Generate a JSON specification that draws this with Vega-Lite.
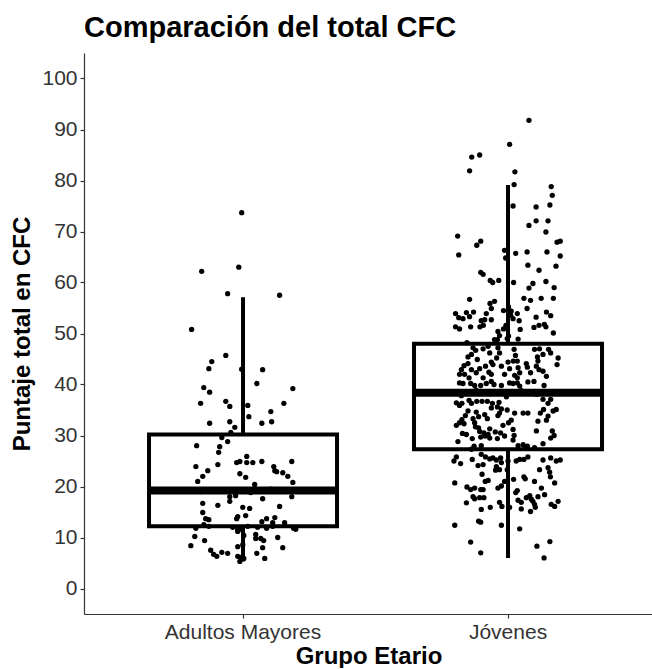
{
  "$schema": "https://vega.github.io/schema/vega-lite/v6.json",
  "width": 569,
  "height": 561,
  "padding": {"left": 10, "top": 14, "right": 0, "bottom": 0},
  "background": "white",
  "title": {"text": "Comparación del total CFC", "anchor": "start", "frame": "group", "font": "Liberation Sans", "fontSize": 29, "fontWeight": "bold", "color": "black", "offset": 10},
  "config": {
    "view": {"stroke": null},
    "axis": {"labelFont": "Liberation Sans", "labelFontSize": 21, "labelColor": "#333333", "titleFont": "Liberation Sans", "titleFontSize": 24, "titleFontWeight": "bold", "titleColor": "black", "domainColor": "#333333", "domainWidth": 1.2, "tickColor": "#333333", "tickSize": 4, "tickWidth": 1.2, "grid": false, "labelPadding": 3}
  },
  "datasets": {
    "cajas": [
      {"grupo": "Adultos Mayores", "minimo": 5.3, "q1": 12.2, "mediana": 19.2, "q3": 30.2, "maximo": 57.1},
      {"grupo": "Jóvenes", "minimo": 6.0, "q1": 27.3, "mediana": 38.4, "q3": 48.0, "maximo": 79.1}
    ],
    "puntos": [
      {"grupo":"Adultos Mayores","puntaje":73.7,"jitter":-0.005},
      {"grupo":"Adultos Mayores","puntaje":62.2,"jitter":-0.156},
      {"grupo":"Adultos Mayores","puntaje":63.0,"jitter":-0.016},
      {"grupo":"Adultos Mayores","puntaje":57.8,"jitter":-0.058},
      {"grupo":"Adultos Mayores","puntaje":57.5,"jitter":0.138},
      {"grupo":"Adultos Mayores","puntaje":50.8,"jitter":-0.194},
      {"grupo":"Adultos Mayores","puntaje":45.7,"jitter":-0.065},
      {"grupo":"Adultos Mayores","puntaje":44.5,"jitter":-0.118},
      {"grupo":"Adultos Mayores","puntaje":43.1,"jitter":-0.129},
      {"grupo":"Adultos Mayores","puntaje":43.0,"jitter":-0.005},
      {"grupo":"Adultos Mayores","puntaje":42.9,"jitter":0.074},
      {"grupo":"Adultos Mayores","puntaje":40.2,"jitter":0.052},
      {"grupo":"Adultos Mayores","puntaje":39.2,"jitter":0.188},
      {"grupo":"Adultos Mayores","puntaje":39.4,"jitter":-0.148},
      {"grupo":"Adultos Mayores","puntaje":38.5,"jitter":-0.126},
      {"grupo":"Adultos Mayores","puntaje":36.3,"jitter":-0.160},
      {"grupo":"Adultos Mayores","puntaje":36.7,"jitter":-0.065},
      {"grupo":"Adultos Mayores","puntaje":35.7,"jitter":-0.050},
      {"grupo":"Adultos Mayores","puntaje":35.9,"jitter":0.018},
      {"grupo":"Adultos Mayores","puntaje":36.3,"jitter":0.154},
      {"grupo":"Adultos Mayores","puntaje":34.7,"jitter":0.105},
      {"grupo":"Adultos Mayores","puntaje":33.7,"jitter":0.022},
      {"grupo":"Adultos Mayores","puntaje":32.4,"jitter":-0.126},
      {"grupo":"Adultos Mayores","puntaje":32.7,"jitter":-0.050},
      {"grupo":"Adultos Mayores","puntaje":31.6,"jitter":-0.031},
      {"grupo":"Adultos Mayores","puntaje":32.4,"jitter":0.071},
      {"grupo":"Adultos Mayores","puntaje":32.7,"jitter":0.108},
      {"grupo":"Adultos Mayores","puntaje":29.6,"jitter":-0.080},
      {"grupo":"Adultos Mayores","puntaje":30.6,"jitter":-0.046},
      {"grupo":"Adultos Mayores","puntaje":28.8,"jitter":-0.058},
      {"grupo":"Adultos Mayores","puntaje":28.0,"jitter":-0.175},
      {"grupo":"Adultos Mayores","puntaje":27.8,"jitter":-0.088},
      {"grupo":"Adultos Mayores","puntaje":26.7,"jitter":-0.092},
      {"grupo":"Adultos Mayores","puntaje":24.3,"jitter":-0.095},
      {"grupo":"Adultos Mayores","puntaje":23.9,"jitter":-0.178},
      {"grupo":"Adultos Mayores","puntaje":23.1,"jitter":-0.133},
      {"grupo":"Adultos Mayores","puntaje":22.0,"jitter":-0.152},
      {"grupo":"Adultos Mayores","puntaje":21.0,"jitter":-0.171},
      {"grupo":"Adultos Mayores","puntaje":24.7,"jitter":-0.024},
      {"grupo":"Adultos Mayores","puntaje":24.9,"jitter":-0.012},
      {"grupo":"Adultos Mayores","puntaje":25.9,"jitter":0.014},
      {"grupo":"Adultos Mayores","puntaje":24.7,"jitter":0.014},
      {"grupo":"Adultos Mayores","puntaje":24.7,"jitter":0.037},
      {"grupo":"Adultos Mayores","puntaje":24.9,"jitter":0.071},
      {"grupo":"Adultos Mayores","puntaje":23.9,"jitter":0.116},
      {"grupo":"Adultos Mayores","puntaje":23.1,"jitter":0.120},
      {"grupo":"Adultos Mayores","puntaje":22.9,"jitter":0.127},
      {"grupo":"Adultos Mayores","puntaje":22.7,"jitter":0.150},
      {"grupo":"Adultos Mayores","puntaje":24.9,"jitter":0.184},
      {"grupo":"Adultos Mayores","puntaje":22.0,"jitter":0.169},
      {"grupo":"Adultos Mayores","puntaje":20.8,"jitter":0.188},
      {"grupo":"Adultos Mayores","puntaje":22.5,"jitter":-0.012},
      {"grupo":"Adultos Mayores","puntaje":21.8,"jitter":0.010},
      {"grupo":"Adultos Mayores","puntaje":20.4,"jitter":0.044},
      {"grupo":"Adultos Mayores","puntaje":18.0,"jitter":-0.050},
      {"grupo":"Adultos Mayores","puntaje":17.1,"jitter":-0.050},
      {"grupo":"Adultos Mayores","puntaje":18.2,"jitter":-0.028},
      {"grupo":"Adultos Mayores","puntaje":16.7,"jitter":-0.152},
      {"grupo":"Adultos Mayores","puntaje":16.3,"jitter":-0.095},
      {"grupo":"Adultos Mayores","puntaje":17.6,"jitter":0.074},
      {"grupo":"Adultos Mayores","puntaje":18.0,"jitter":0.184},
      {"grupo":"Adultos Mayores","puntaje":15.9,"jitter":-0.001},
      {"grupo":"Adultos Mayores","puntaje":15.7,"jitter":0.025},
      {"grupo":"Adultos Mayores","puntaje":16.1,"jitter":0.138},
      {"grupo":"Adultos Mayores","puntaje":14.9,"jitter":-0.152},
      {"grupo":"Adultos Mayores","puntaje":14.3,"jitter":0.010},
      {"grupo":"Adultos Mayores","puntaje":14.1,"jitter":-0.020},
      {"grupo":"Adultos Mayores","puntaje":13.7,"jitter":-0.024},
      {"grupo":"Adultos Mayores","puntaje":13.7,"jitter":-0.141},
      {"grupo":"Adultos Mayores","puntaje":13.5,"jitter":-0.129},
      {"grupo":"Adultos Mayores","puntaje":12.5,"jitter":-0.148},
      {"grupo":"Adultos Mayores","puntaje":13.1,"jitter":0.071},
      {"grupo":"Adultos Mayores","puntaje":13.7,"jitter":0.089},
      {"grupo":"Adultos Mayores","puntaje":13.9,"jitter":0.120},
      {"grupo":"Adultos Mayores","puntaje":12.9,"jitter":0.112},
      {"grupo":"Adultos Mayores","puntaje":12.2,"jitter":0.112},
      {"grupo":"Adultos Mayores","puntaje":12.9,"jitter":0.157},
      {"grupo":"Adultos Mayores","puntaje":11.8,"jitter":-0.178},
      {"grupo":"Adultos Mayores","puntaje":12.2,"jitter":-0.129},
      {"grupo":"Adultos Mayores","puntaje":12.0,"jitter":-0.039},
      {"grupo":"Adultos Mayores","puntaje":11.6,"jitter":-0.020},
      {"grupo":"Adultos Mayores","puntaje":11.6,"jitter":-0.005},
      {"grupo":"Adultos Mayores","puntaje":12.2,"jitter":0.018},
      {"grupo":"Adultos Mayores","puntaje":12.0,"jitter":0.055},
      {"grupo":"Adultos Mayores","puntaje":11.8,"jitter":0.089},
      {"grupo":"Adultos Mayores","puntaje":11.8,"jitter":0.191},
      {"grupo":"Adultos Mayores","puntaje":11.6,"jitter":0.199},
      {"grupo":"Adultos Mayores","puntaje":11.2,"jitter":-0.020},
      {"grupo":"Adultos Mayores","puntaje":10.4,"jitter":0.003},
      {"grupo":"Adultos Mayores","puntaje":10.6,"jitter":0.048},
      {"grupo":"Adultos Mayores","puntaje":9.8,"jitter":0.048},
      {"grupo":"Adultos Mayores","puntaje":9.8,"jitter":0.067},
      {"grupo":"Adultos Mayores","puntaje":9.4,"jitter":0.078},
      {"grupo":"Adultos Mayores","puntaje":10.2,"jitter":-0.182},
      {"grupo":"Adultos Mayores","puntaje":9.4,"jitter":-0.145},
      {"grupo":"Adultos Mayores","puntaje":8.4,"jitter":-0.197},
      {"grupo":"Adultos Mayores","puntaje":10.0,"jitter":0.131},
      {"grupo":"Adultos Mayores","puntaje":8.2,"jitter":-0.020},
      {"grupo":"Adultos Mayores","puntaje":8.6,"jitter":-0.001},
      {"grupo":"Adultos Mayores","puntaje":8.0,"jitter":0.074},
      {"grupo":"Adultos Mayores","puntaje":8.0,"jitter":0.150},
      {"grupo":"Adultos Mayores","puntaje":7.5,"jitter":-0.122},
      {"grupo":"Adultos Mayores","puntaje":6.7,"jitter":-0.111},
      {"grupo":"Adultos Mayores","puntaje":6.3,"jitter":-0.099},
      {"grupo":"Adultos Mayores","puntaje":7.1,"jitter":-0.080},
      {"grupo":"Adultos Mayores","puntaje":6.9,"jitter":-0.058},
      {"grupo":"Adultos Mayores","puntaje":6.9,"jitter":0.052},
      {"grupo":"Adultos Mayores","puntaje":6.3,"jitter":-0.020},
      {"grupo":"Adultos Mayores","puntaje":6.1,"jitter":-0.009},
      {"grupo":"Adultos Mayores","puntaje":5.9,"jitter":0.003},
      {"grupo":"Adultos Mayores","puntaje":5.3,"jitter":-0.012},
      {"grupo":"Adultos Mayores","puntaje":5.9,"jitter":0.082},
      {"grupo":"Adultos Mayores","puntaje":19.3,"jitter":-0.103},
      {"grupo":"Adultos Mayores","puntaje":18.8,"jitter":0.029},
      {"grupo":"Adultos Mayores","puntaje":19.5,"jitter":0.105},
      {"grupo":"Adultos Mayores","puntaje":19.0,"jitter":-0.160},
      {"grupo":"Adultos Mayores","puntaje":19.2,"jitter":0.161},
      {"grupo":"Jóvenes","puntaje":91.8,"jitter":0.079},
      {"grupo":"Jóvenes","puntaje":87.1,"jitter":0.006},
      {"grupo":"Jóvenes","puntaje":84.6,"jitter":-0.137},
      {"grupo":"Jóvenes","puntaje":85.0,"jitter":-0.107},
      {"grupo":"Jóvenes","puntaje":81.9,"jitter":-0.145},
      {"grupo":"Jóvenes","puntaje":81.7,"jitter":0.026},
      {"grupo":"Jóvenes","puntaje":79.2,"jitter":0.023},
      {"grupo":"Jóvenes","puntaje":78.8,"jitter":0.163},
      {"grupo":"Jóvenes","puntaje":77.1,"jitter":0.167},
      {"grupo":"Jóvenes","puntaje":75.0,"jitter":0.019},
      {"grupo":"Jóvenes","puntaje":74.8,"jitter":0.106},
      {"grupo":"Jóvenes","puntaje":75.2,"jitter":0.158},
      {"grupo":"Jóvenes","puntaje":71.2,"jitter":0.079},
      {"grupo":"Jóvenes","puntaje":72.1,"jitter":0.106},
      {"grupo":"Jóvenes","puntaje":72.1,"jitter":0.151},
      {"grupo":"Jóvenes","puntaje":69.9,"jitter":0.143},
      {"grupo":"Jóvenes","puntaje":69.1,"jitter":-0.190},
      {"grupo":"Jóvenes","puntaje":68.1,"jitter":-0.103},
      {"grupo":"Jóvenes","puntaje":67.3,"jitter":-0.118},
      {"grupo":"Jóvenes","puntaje":67.9,"jitter":0.185},
      {"grupo":"Jóvenes","puntaje":68.1,"jitter":0.197},
      {"grupo":"Jóvenes","puntaje":65.4,"jitter":-0.186},
      {"grupo":"Jóvenes","puntaje":66.3,"jitter":-0.013},
      {"grupo":"Jóvenes","puntaje":64.8,"jitter":-0.009},
      {"grupo":"Jóvenes","puntaje":65.7,"jitter":0.029},
      {"grupo":"Jóvenes","puntaje":66.0,"jitter":0.072},
      {"grupo":"Jóvenes","puntaje":66.0,"jitter":0.147},
      {"grupo":"Jóvenes","puntaje":65.2,"jitter":0.197},
      {"grupo":"Jóvenes","puntaje":63.4,"jitter":0.075},
      {"grupo":"Jóvenes","puntaje":63.2,"jitter":0.181},
      {"grupo":"Jóvenes","puntaje":62.4,"jitter":0.117},
      {"grupo":"Jóvenes","puntaje":62.0,"jitter":-0.103},
      {"grupo":"Jóvenes","puntaje":61.6,"jitter":-0.094},
      {"grupo":"Jóvenes","puntaje":60.4,"jitter":-0.067},
      {"grupo":"Jóvenes","puntaje":60.0,"jitter":-0.058},
      {"grupo":"Jóvenes","puntaje":60.4,"jitter":-0.035},
      {"grupo":"Jóvenes","puntaje":60.0,"jitter":0.021},
      {"grupo":"Jóvenes","puntaje":59.8,"jitter":0.094},
      {"grupo":"Jóvenes","puntaje":58.9,"jitter":0.079},
      {"grupo":"Jóvenes","puntaje":60.2,"jitter":0.143},
      {"grupo":"Jóvenes","puntaje":59.0,"jitter":0.174},
      {"grupo":"Jóvenes","puntaje":56.7,"jitter":-0.145},
      {"grupo":"Jóvenes","puntaje":55.9,"jitter":-0.068},
      {"grupo":"Jóvenes","puntaje":56.3,"jitter":-0.051},
      {"grupo":"Jóvenes","puntaje":56.9,"jitter":0.060},
      {"grupo":"Jóvenes","puntaje":56.5,"jitter":0.085},
      {"grupo":"Jóvenes","puntaje":56.9,"jitter":0.125},
      {"grupo":"Jóvenes","puntaje":56.9,"jitter":0.171},
      {"grupo":"Jóvenes","puntaje":54.9,"jitter":0.072},
      {"grupo":"Jóvenes","puntaje":53.9,"jitter":-0.198},
      {"grupo":"Jóvenes","puntaje":53.1,"jitter":-0.186},
      {"grupo":"Jóvenes","puntaje":52.9,"jitter":-0.170},
      {"grupo":"Jóvenes","puntaje":54.1,"jitter":-0.157},
      {"grupo":"Jóvenes","puntaje":53.3,"jitter":-0.145},
      {"grupo":"Jóvenes","puntaje":54.2,"jitter":-0.130},
      {"grupo":"Jóvenes","puntaje":53.9,"jitter":-0.082},
      {"grupo":"Jóvenes","puntaje":54.9,"jitter":-0.063},
      {"grupo":"Jóvenes","puntaje":54.5,"jitter":-0.017},
      {"grupo":"Jóvenes","puntaje":55.2,"jitter":0.002},
      {"grupo":"Jóvenes","puntaje":54.4,"jitter":0.012},
      {"grupo":"Jóvenes","puntaje":53.6,"jitter":0.010},
      {"grupo":"Jóvenes","puntaje":53.9,"jitter":0.035},
      {"grupo":"Jóvenes","puntaje":52.5,"jitter":0.042},
      {"grupo":"Jóvenes","puntaje":52.9,"jitter":0.019},
      {"grupo":"Jóvenes","puntaje":53.2,"jitter":0.106},
      {"grupo":"Jóvenes","puntaje":54.2,"jitter":0.145},
      {"grupo":"Jóvenes","puntaje":53.5,"jitter":0.161},
      {"grupo":"Jóvenes","puntaje":52.5,"jitter":-0.101},
      {"grupo":"Jóvenes","puntaje":52.7,"jitter":-0.088},
      {"grupo":"Jóvenes","puntaje":52.7,"jitter":-0.063},
      {"grupo":"Jóvenes","puntaje":51.3,"jitter":-0.198},
      {"grupo":"Jóvenes","puntaje":50.9,"jitter":-0.183},
      {"grupo":"Jóvenes","puntaje":51.3,"jitter":-0.141},
      {"grupo":"Jóvenes","puntaje":51.3,"jitter":-0.106},
      {"grupo":"Jóvenes","puntaje":51.6,"jitter":-0.093},
      {"grupo":"Jóvenes","puntaje":50.4,"jitter":-0.038},
      {"grupo":"Jóvenes","puntaje":50.9,"jitter":-0.017},
      {"grupo":"Jóvenes","puntaje":51.6,"jitter":-0.008},
      {"grupo":"Jóvenes","puntaje":50.8,"jitter":0.046},
      {"grupo":"Jóvenes","puntaje":51.2,"jitter":0.098},
      {"grupo":"Jóvenes","puntaje":51.6,"jitter":0.117},
      {"grupo":"Jóvenes","puntaje":51.8,"jitter":0.137},
      {"grupo":"Jóvenes","puntaje":51.3,"jitter":0.143},
      {"grupo":"Jóvenes","puntaje":50.1,"jitter":0.171},
      {"grupo":"Jóvenes","puntaje":49.6,"jitter":-0.032},
      {"grupo":"Jóvenes","puntaje":48.8,"jitter":-0.051},
      {"grupo":"Jóvenes","puntaje":48.8,"jitter":-0.040},
      {"grupo":"Jóvenes","puntaje":49.5,"jitter":0.002},
      {"grupo":"Jóvenes","puntaje":49.0,"jitter":-0.003},
      {"grupo":"Jóvenes","puntaje":48.9,"jitter":0.038},
      {"grupo":"Jóvenes","puntaje":48.2,"jitter":-0.155},
      {"grupo":"Jóvenes","puntaje":47.2,"jitter":-0.132},
      {"grupo":"Jóvenes","puntaje":45.9,"jitter":-0.138},
      {"grupo":"Jóvenes","puntaje":45.4,"jitter":-0.151},
      {"grupo":"Jóvenes","puntaje":46.7,"jitter":-0.122},
      {"grupo":"Jóvenes","puntaje":47.0,"jitter":-0.094},
      {"grupo":"Jóvenes","puntaje":47.5,"jitter":-0.075},
      {"grupo":"Jóvenes","puntaje":47.2,"jitter":-0.038},
      {"grupo":"Jóvenes","puntaje":46.2,"jitter":-0.032},
      {"grupo":"Jóvenes","puntaje":45.2,"jitter":-0.043},
      {"grupo":"Jóvenes","puntaje":46.2,"jitter":-0.069},
      {"grupo":"Jóvenes","puntaje":44.4,"jitter":-0.063},
      {"grupo":"Jóvenes","puntaje":43.9,"jitter":-0.057},
      {"grupo":"Jóvenes","puntaje":46.9,"jitter":0.023},
      {"grupo":"Jóvenes","puntaje":45.7,"jitter":0.028},
      {"grupo":"Jóvenes","puntaje":44.6,"jitter":0.020},
      {"grupo":"Jóvenes","puntaje":44.6,"jitter":0.035},
      {"grupo":"Jóvenes","puntaje":44.4,"jitter":0.000},
      {"grupo":"Jóvenes","puntaje":46.9,"jitter":0.100},
      {"grupo":"Jóvenes","puntaje":47.0,"jitter":0.119},
      {"grupo":"Jóvenes","puntaje":46.9,"jitter":0.153},
      {"grupo":"Jóvenes","puntaje":46.2,"jitter":0.161},
      {"grupo":"Jóvenes","puntaje":45.4,"jitter":0.111},
      {"grupo":"Jóvenes","puntaje":44.6,"jitter":0.113},
      {"grupo":"Jóvenes","puntaje":43.6,"jitter":0.107},
      {"grupo":"Jóvenes","puntaje":42.9,"jitter":0.117},
      {"grupo":"Jóvenes","puntaje":45.9,"jitter":0.132},
      {"grupo":"Jóvenes","puntaje":45.2,"jitter":0.189},
      {"grupo":"Jóvenes","puntaje":43.9,"jitter":0.185},
      {"grupo":"Jóvenes","puntaje":44.9,"jitter":-0.116},
      {"grupo":"Jóvenes","puntaje":44.1,"jitter":-0.151},
      {"grupo":"Jóvenes","puntaje":43.7,"jitter":-0.166},
      {"grupo":"Jóvenes","puntaje":42.9,"jitter":-0.176},
      {"grupo":"Jóvenes","puntaje":42.0,"jitter":-0.183},
      {"grupo":"Jóvenes","puntaje":42.0,"jitter":-0.164},
      {"grupo":"Jóvenes","puntaje":42.9,"jitter":-0.138},
      {"grupo":"Jóvenes","puntaje":42.3,"jitter":-0.120},
      {"grupo":"Jóvenes","puntaje":43.1,"jitter":-0.107},
      {"grupo":"Jóvenes","puntaje":43.6,"jitter":-0.085},
      {"grupo":"Jóvenes","puntaje":42.4,"jitter":-0.072},
      {"grupo":"Jóvenes","puntaje":42.0,"jitter":-0.063},
      {"grupo":"Jóvenes","puntaje":43.6,"jitter":-0.025},
      {"grupo":"Jóvenes","puntaje":43.1,"jitter":0.006},
      {"grupo":"Jóvenes","puntaje":42.0,"jitter":-0.013},
      {"grupo":"Jóvenes","puntaje":43.3,"jitter":0.038},
      {"grupo":"Jóvenes","puntaje":42.3,"jitter":0.044},
      {"grupo":"Jóvenes","puntaje":41.3,"jitter":0.035},
      {"grupo":"Jóvenes","puntaje":41.8,"jitter":0.025},
      {"grupo":"Jóvenes","puntaje":44.1,"jitter":0.069},
      {"grupo":"Jóvenes","puntaje":43.4,"jitter":0.073},
      {"grupo":"Jóvenes","puntaje":42.3,"jitter":0.085},
      {"grupo":"Jóvenes","puntaje":42.6,"jitter":0.132},
      {"grupo":"Jóvenes","puntaje":41.6,"jitter":0.145},
      {"grupo":"Jóvenes","puntaje":40.3,"jitter":-0.183},
      {"grupo":"Jóvenes","puntaje":40.2,"jitter":-0.170},
      {"grupo":"Jóvenes","puntaje":40.2,"jitter":-0.141},
      {"grupo":"Jóvenes","puntaje":39.8,"jitter":-0.126},
      {"grupo":"Jóvenes","puntaje":39.8,"jitter":-0.103},
      {"grupo":"Jóvenes","puntaje":40.2,"jitter":-0.082},
      {"grupo":"Jóvenes","puntaje":40.0,"jitter":-0.053},
      {"grupo":"Jóvenes","puntaje":40.6,"jitter":-0.063},
      {"grupo":"Jóvenes","puntaje":39.8,"jitter":-0.025},
      {"grupo":"Jóvenes","puntaje":40.3,"jitter":0.006},
      {"grupo":"Jóvenes","puntaje":40.2,"jitter":0.019},
      {"grupo":"Jóvenes","puntaje":40.3,"jitter":0.035},
      {"grupo":"Jóvenes","puntaje":39.7,"jitter":0.044},
      {"grupo":"Jóvenes","puntaje":40.5,"jitter":0.075},
      {"grupo":"Jóvenes","puntaje":40.6,"jitter":0.098},
      {"grupo":"Jóvenes","puntaje":39.8,"jitter":0.136},
      {"grupo":"Jóvenes","puntaje":41.3,"jitter":-0.147},
      {"grupo":"Jóvenes","puntaje":41.3,"jitter":-0.094},
      {"grupo":"Jóvenes","puntaje":37.8,"jitter":-0.176},
      {"grupo":"Jóvenes","puntaje":38.9,"jitter":-0.120},
      {"grupo":"Jóvenes","puntaje":38.2,"jitter":-0.063},
      {"grupo":"Jóvenes","puntaje":37.6,"jitter":-0.006},
      {"grupo":"Jóvenes","puntaje":38.8,"jitter":0.050},
      {"grupo":"Jóvenes","puntaje":38.1,"jitter":0.107},
      {"grupo":"Jóvenes","puntaje":38.5,"jitter":0.156},
      {"grupo":"Jóvenes","puntaje":36.4,"jitter":-0.195},
      {"grupo":"Jóvenes","puntaje":35.9,"jitter":-0.183},
      {"grupo":"Jóvenes","puntaje":36.3,"jitter":-0.174},
      {"grupo":"Jóvenes","puntaje":36.9,"jitter":-0.147},
      {"grupo":"Jóvenes","puntaje":36.3,"jitter":-0.138},
      {"grupo":"Jóvenes","puntaje":36.7,"jitter":-0.118},
      {"grupo":"Jóvenes","puntaje":36.7,"jitter":-0.098},
      {"grupo":"Jóvenes","puntaje":36.7,"jitter":-0.078},
      {"grupo":"Jóvenes","puntaje":36.3,"jitter":-0.059},
      {"grupo":"Jóvenes","puntaje":36.5,"jitter":-0.034},
      {"grupo":"Jóvenes","puntaje":35.4,"jitter":-0.063},
      {"grupo":"Jóvenes","puntaje":35.6,"jitter":-0.040},
      {"grupo":"Jóvenes","puntaje":37.1,"jitter":0.132},
      {"grupo":"Jóvenes","puntaje":36.3,"jitter":0.151},
      {"grupo":"Jóvenes","puntaje":37.1,"jitter":0.161},
      {"grupo":"Jóvenes","puntaje":34.8,"jitter":-0.151},
      {"grupo":"Jóvenes","puntaje":33.9,"jitter":-0.161},
      {"grupo":"Jóvenes","puntaje":33.1,"jitter":-0.174},
      {"grupo":"Jóvenes","puntaje":32.3,"jitter":-0.166},
      {"grupo":"Jóvenes","puntaje":34.6,"jitter":-0.120},
      {"grupo":"Jóvenes","puntaje":33.7,"jitter":-0.111},
      {"grupo":"Jóvenes","puntaje":34.1,"jitter":-0.088},
      {"grupo":"Jóvenes","puntaje":33.3,"jitter":-0.078},
      {"grupo":"Jóvenes","puntaje":32.0,"jitter":-0.195},
      {"grupo":"Jóvenes","puntaje":32.5,"jitter":-0.183},
      {"grupo":"Jóvenes","puntaje":33.3,"jitter":-0.132},
      {"grupo":"Jóvenes","puntaje":32.5,"jitter":-0.126},
      {"grupo":"Jóvenes","puntaje":31.7,"jitter":-0.123},
      {"grupo":"Jóvenes","puntaje":34.4,"jitter":-0.032},
      {"grupo":"Jóvenes","puntaje":35.2,"jitter":-0.025},
      {"grupo":"Jóvenes","puntaje":33.9,"jitter":-0.038},
      {"grupo":"Jóvenes","puntaje":35.0,"jitter":-0.003},
      {"grupo":"Jóvenes","puntaje":34.4,"jitter":0.025},
      {"grupo":"Jóvenes","puntaje":33.0,"jitter":0.012},
      {"grupo":"Jóvenes","puntaje":32.5,"jitter":0.002},
      {"grupo":"Jóvenes","puntaje":34.4,"jitter":0.057},
      {"grupo":"Jóvenes","puntaje":34.4,"jitter":0.075},
      {"grupo":"Jóvenes","puntaje":34.4,"jitter":0.122},
      {"grupo":"Jóvenes","puntaje":35.1,"jitter":0.134},
      {"grupo":"Jóvenes","puntaje":33.8,"jitter":0.151},
      {"grupo":"Jóvenes","puntaje":33.0,"jitter":0.145},
      {"grupo":"Jóvenes","puntaje":34.8,"jitter":0.170},
      {"grupo":"Jóvenes","puntaje":35.1,"jitter":0.182},
      {"grupo":"Jóvenes","puntaje":32.8,"jitter":0.113},
      {"grupo":"Jóvenes","puntaje":31.5,"jitter":-0.111},
      {"grupo":"Jóvenes","puntaje":30.8,"jitter":-0.107},
      {"grupo":"Jóvenes","puntaje":30.5,"jitter":-0.091},
      {"grupo":"Jóvenes","puntaje":31.3,"jitter":-0.069},
      {"grupo":"Jóvenes","puntaje":30.2,"jitter":-0.075},
      {"grupo":"Jóvenes","puntaje":30.7,"jitter":-0.048},
      {"grupo":"Jóvenes","puntaje":32.0,"jitter":-0.019},
      {"grupo":"Jóvenes","puntaje":30.5,"jitter":-0.028},
      {"grupo":"Jóvenes","puntaje":29.9,"jitter":-0.013},
      {"grupo":"Jóvenes","puntaje":31.2,"jitter":0.019},
      {"grupo":"Jóvenes","puntaje":30.0,"jitter":0.023},
      {"grupo":"Jóvenes","puntaje":29.1,"jitter":0.019},
      {"grupo":"Jóvenes","puntaje":30.4,"jitter":-0.172},
      {"grupo":"Jóvenes","puntaje":30.2,"jitter":-0.157},
      {"grupo":"Jóvenes","puntaje":29.4,"jitter":-0.135},
      {"grupo":"Jóvenes","puntaje":28.8,"jitter":-0.189},
      {"grupo":"Jóvenes","puntaje":29.7,"jitter":-0.103},
      {"grupo":"Jóvenes","puntaje":29.9,"jitter":-0.086},
      {"grupo":"Jóvenes","puntaje":29.5,"jitter":-0.069},
      {"grupo":"Jóvenes","puntaje":29.4,"jitter":-0.040},
      {"grupo":"Jóvenes","puntaje":30.9,"jitter":0.107},
      {"grupo":"Jóvenes","puntaje":29.5,"jitter":0.161},
      {"grupo":"Jóvenes","puntaje":30.0,"jitter":0.174},
      {"grupo":"Jóvenes","puntaje":30.9,"jitter":0.167},
      {"grupo":"Jóvenes","puntaje":28.4,"jitter":0.132},
      {"grupo":"Jóvenes","puntaje":28.0,"jitter":0.038},
      {"grupo":"Jóvenes","puntaje":28.2,"jitter":0.057},
      {"grupo":"Jóvenes","puntaje":27.9,"jitter":0.073},
      {"grupo":"Jóvenes","puntaje":27.6,"jitter":0.065},
      {"grupo":"Jóvenes","puntaje":28.0,"jitter":-0.101},
      {"grupo":"Jóvenes","puntaje":27.9,"jitter":-0.128},
      {"grupo":"Jóvenes","puntaje":27.3,"jitter":-0.138},
      {"grupo":"Jóvenes","puntaje":27.6,"jitter":0.100},
      {"grupo":"Jóvenes","puntaje":25.8,"jitter":-0.195},
      {"grupo":"Jóvenes","puntaje":25.0,"jitter":-0.204},
      {"grupo":"Jóvenes","puntaje":24.5,"jitter":-0.179},
      {"grupo":"Jóvenes","puntaje":25.3,"jitter":-0.135},
      {"grupo":"Jóvenes","puntaje":24.1,"jitter":-0.113},
      {"grupo":"Jóvenes","puntaje":24.3,"jitter":-0.094},
      {"grupo":"Jóvenes","puntaje":26.3,"jitter":-0.101},
      {"grupo":"Jóvenes","puntaje":25.8,"jitter":-0.085},
      {"grupo":"Jóvenes","puntaje":25.4,"jitter":-0.069},
      {"grupo":"Jóvenes","puntaje":25.6,"jitter":-0.057},
      {"grupo":"Jóvenes","puntaje":25.2,"jitter":-0.044},
      {"grupo":"Jóvenes","puntaje":25.6,"jitter":-0.028},
      {"grupo":"Jóvenes","puntaje":24.7,"jitter":-0.025},
      {"grupo":"Jóvenes","puntaje":25.0,"jitter":0.000},
      {"grupo":"Jóvenes","puntaje":23.3,"jitter":-0.003},
      {"grupo":"Jóvenes","puntaje":25.0,"jitter":0.031},
      {"grupo":"Jóvenes","puntaje":25.3,"jitter":0.044},
      {"grupo":"Jóvenes","puntaje":25.3,"jitter":0.060},
      {"grupo":"Jóvenes","puntaje":25.8,"jitter":0.075},
      {"grupo":"Jóvenes","puntaje":25.2,"jitter":0.132},
      {"grupo":"Jóvenes","puntaje":25.6,"jitter":0.161},
      {"grupo":"Jóvenes","puntaje":25.0,"jitter":0.182},
      {"grupo":"Jóvenes","puntaje":25.2,"jitter":0.197},
      {"grupo":"Jóvenes","puntaje":23.9,"jitter":-0.044},
      {"grupo":"Jóvenes","puntaje":23.3,"jitter":-0.032},
      {"grupo":"Jóvenes","puntaje":23.3,"jitter":0.119},
      {"grupo":"Jóvenes","puntaje":23.7,"jitter":0.151},
      {"grupo":"Jóvenes","puntaje":22.8,"jitter":0.157},
      {"grupo":"Jóvenes","puntaje":22.4,"jitter":-0.098},
      {"grupo":"Jóvenes","puntaje":21.2,"jitter":-0.075},
      {"grupo":"Jóvenes","puntaje":21.0,"jitter":-0.086},
      {"grupo":"Jóvenes","puntaje":23.2,"jitter":-0.047},
      {"grupo":"Jóvenes","puntaje":21.9,"jitter":0.060},
      {"grupo":"Jóvenes","puntaje":21.5,"jitter":0.065},
      {"grupo":"Jóvenes","puntaje":21.4,"jitter":0.021},
      {"grupo":"Jóvenes","puntaje":21.0,"jitter":-0.013},
      {"grupo":"Jóvenes","puntaje":21.0,"jitter":0.100},
      {"grupo":"Jóvenes","puntaje":21.9,"jitter":0.160},
      {"grupo":"Jóvenes","puntaje":20.7,"jitter":0.176},
      {"grupo":"Jóvenes","puntaje":20.7,"jitter":-0.201},
      {"grupo":"Jóvenes","puntaje":19.9,"jitter":-0.155},
      {"grupo":"Jóvenes","puntaje":19.4,"jitter":-0.141},
      {"grupo":"Jóvenes","puntaje":19.7,"jitter":-0.126},
      {"grupo":"Jóvenes","puntaje":19.4,"jitter":-0.103},
      {"grupo":"Jóvenes","puntaje":19.4,"jitter":-0.094},
      {"grupo":"Jóvenes","puntaje":19.7,"jitter":-0.038},
      {"grupo":"Jóvenes","puntaje":20.1,"jitter":-0.025},
      {"grupo":"Jóvenes","puntaje":18.8,"jitter":0.029},
      {"grupo":"Jóvenes","puntaje":19.2,"jitter":0.035},
      {"grupo":"Jóvenes","puntaje":19.7,"jitter":0.126},
      {"grupo":"Jóvenes","puntaje":18.4,"jitter":0.138},
      {"grupo":"Jóvenes","puntaje":18.0,"jitter":0.113},
      {"grupo":"Jóvenes","puntaje":18.0,"jitter":-0.132},
      {"grupo":"Jóvenes","puntaje":17.6,"jitter":-0.126},
      {"grupo":"Jóvenes","puntaje":17.8,"jitter":-0.107},
      {"grupo":"Jóvenes","puntaje":17.8,"jitter":-0.091},
      {"grupo":"Jóvenes","puntaje":17.8,"jitter":0.069},
      {"grupo":"Jóvenes","puntaje":18.2,"jitter":0.082},
      {"grupo":"Jóvenes","puntaje":17.5,"jitter":0.088},
      {"grupo":"Jóvenes","puntaje":16.9,"jitter":0.050},
      {"grupo":"Jóvenes","puntaje":17.3,"jitter":0.038},
      {"grupo":"Jóvenes","puntaje":16.9,"jitter":-0.032},
      {"grupo":"Jóvenes","puntaje":16.1,"jitter":-0.023},
      {"grupo":"Jóvenes","puntaje":15.9,"jitter":0.006},
      {"grupo":"Jóvenes","puntaje":15.9,"jitter":-0.067},
      {"grupo":"Jóvenes","puntaje":16.8,"jitter":-0.157},
      {"grupo":"Jóvenes","puntaje":16.5,"jitter":0.100},
      {"grupo":"Jóvenes","puntaje":17.1,"jitter":0.094},
      {"grupo":"Jóvenes","puntaje":15.9,"jitter":0.103},
      {"grupo":"Jóvenes","puntaje":16.5,"jitter":0.163},
      {"grupo":"Jóvenes","puntaje":16.1,"jitter":0.176},
      {"grupo":"Jóvenes","puntaje":17.1,"jitter":0.189},
      {"grupo":"Jóvenes","puntaje":15.5,"jitter":-0.101},
      {"grupo":"Jóvenes","puntaje":15.1,"jitter":0.085},
      {"grupo":"Jóvenes","puntaje":15.6,"jitter":0.050},
      {"grupo":"Jóvenes","puntaje":12.4,"jitter":-0.201},
      {"grupo":"Jóvenes","puntaje":13.2,"jitter":-0.111},
      {"grupo":"Jóvenes","puntaje":13.0,"jitter":-0.103},
      {"grupo":"Jóvenes","puntaje":12.4,"jitter":-0.025},
      {"grupo":"Jóvenes","puntaje":11.7,"jitter":0.044},
      {"grupo":"Jóvenes","puntaje":9.1,"jitter":-0.141},
      {"grupo":"Jóvenes","puntaje":7.0,"jitter":-0.103},
      {"grupo":"Jóvenes","puntaje":8.3,"jitter":0.109},
      {"grupo":"Jóvenes","puntaje":9.2,"jitter":0.158},
      {"grupo":"Jóvenes","puntaje":6.0,"jitter":0.136}
    ]
  },
  "layer": [
    {
      "data": {"name": "cajas"},
      "mark": {"type": "rule", "color": "black", "strokeWidth": 4},
      "encoding": {
        "x": {"field": "grupo", "type": "nominal", "scale": {"paddingInner": 0, "paddingOuter": 0.0736, "align": 0.68}, "axis": {"title": "Grupo Etario", "labelAngle": 0, "titlePadding": 2}},
        "y": {"field": "minimo", "type": "quantitative", "scale": {"domain": [-5, 105], "nice": false, "zero": false}, "axis": {"title": "Puntaje total en CFC", "values": [0,10,20,30,40,50,60,70,80,90,100], "titlePadding": 7}},
        "y2": {"field": "maximo"}
      }
    },
    {
      "data": {"name": "cajas"},
      "mark": {"type": "bar", "width": 188, "fill": "white", "stroke": "black", "strokeWidth": 4},
      "encoding": {
        "x": {"field": "grupo", "type": "nominal"},
        "y": {"field": "q1", "type": "quantitative"},
        "y2": {"field": "q3"}
      }
    },
    {
      "data": {"name": "cajas"},
      "mark": {"type": "tick", "color": "black", "thickness": 8, "size": 190, "opacity": 1},
      "encoding": {
        "x": {"field": "grupo", "type": "nominal"},
        "y": {"field": "mediana", "type": "quantitative"}
      }
    },
    {
      "data": {"name": "puntos"},
      "mark": {"type": "circle", "color": "black", "opacity": 1, "size": 28},
      "encoding": {
        "x": {"field": "grupo", "type": "nominal"},
        "xOffset": {"field": "jitter", "type": "quantitative", "scale": {"domain": [-0.5, 0.5]}},
        "y": {"field": "puntaje", "type": "quantitative"}
      }
    }
  ]
}
